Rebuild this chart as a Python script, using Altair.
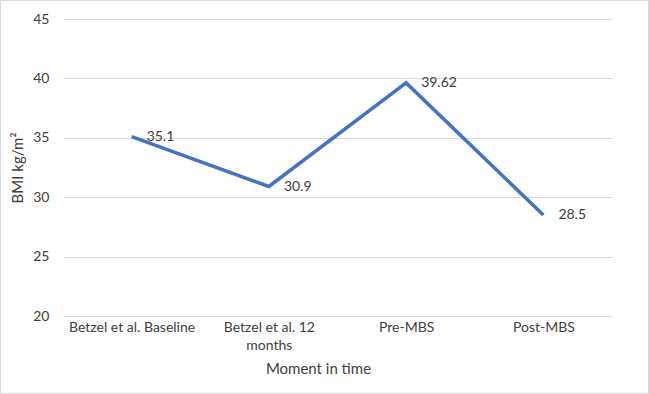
import altair as alt
import pandas as pd

categories = ["Betzel et al. Baseline", "Betzel et al. 12 months", "Pre-MBS", "Post-MBS"]
bmi = [35.1, 30.9, 39.62, 28.5]
labels = ["35.1", "30.9", "39.62", "28.5"]

df = pd.DataFrame({"moment": categories, "bmi": bmi, "label": labels})

FONT = "Lato"
x = alt.X("moment:N", sort=categories, title="Moment in time",
          scale=alt.Scale(type="point", padding=0.5),
          axis=alt.Axis(labelAngle=0, domain=False, ticks=False, grid=False, labelPadding=4,
                        labelFontSize=14, labelColor="#404040", labelFont=FONT,
                        labelLineHeight=18,
                        titleFont=FONT, titleFontSize=15, titleFontWeight="normal",
                        titleColor="#404040", titlePadding=9, titleX=255, labelLimit=200,
                        labelExpr="datum.label == 'Betzel et al. 12 months' ? ['Betzel et al. 12', 'months'] : datum.label"))
y = alt.Y("bmi:Q", title="BMI kg/m²",
          scale=alt.Scale(domain=[20, 45], nice=False, zero=False),
          axis=alt.Axis(values=[20, 25, 30, 35, 40, 45], domain=False, ticks=False,
                        labelPadding=14, labelFontSize=14, labelColor="#404040",
                        labelFont=FONT, titleFont=FONT, titleFontSize=15,
                        titleFontWeight="normal", titleColor="#404040", titlePadding=7,
                        gridColor="#d9d9d9", gridWidth=1))

line = alt.Chart(df).mark_line(color="#4472C4", strokeWidth=3.5).encode(x=x, y=y)
text = alt.Chart(df).mark_text(align="left", baseline="middle", dx=15, fontSize=14,
                               font=FONT, color="#404040").encode(x=x, y=y, text="label:N")
border_df = pd.DataFrame({"k": [0]})
border = alt.Chart(border_df).mark_rect(fill=None, stroke="#d9d9d9", strokeWidth=1).encode(
    x=alt.value(-62.5), x2=alt.value(585.5), y=alt.value(-18.5), y2=alt.value(374.5))

chart = alt.layer(line, text, border).properties(
    width=549, height=297,
    background="white",
    autosize=alt.AutoSizeParams(type="none"),
    padding={"left": 63, "top": 19, "right": 37, "bottom": 78},
).configure_view(stroke=None, strokeWidth=0)

chart.save("out.html", embed_options={"renderer": "svg", "actions": False})
